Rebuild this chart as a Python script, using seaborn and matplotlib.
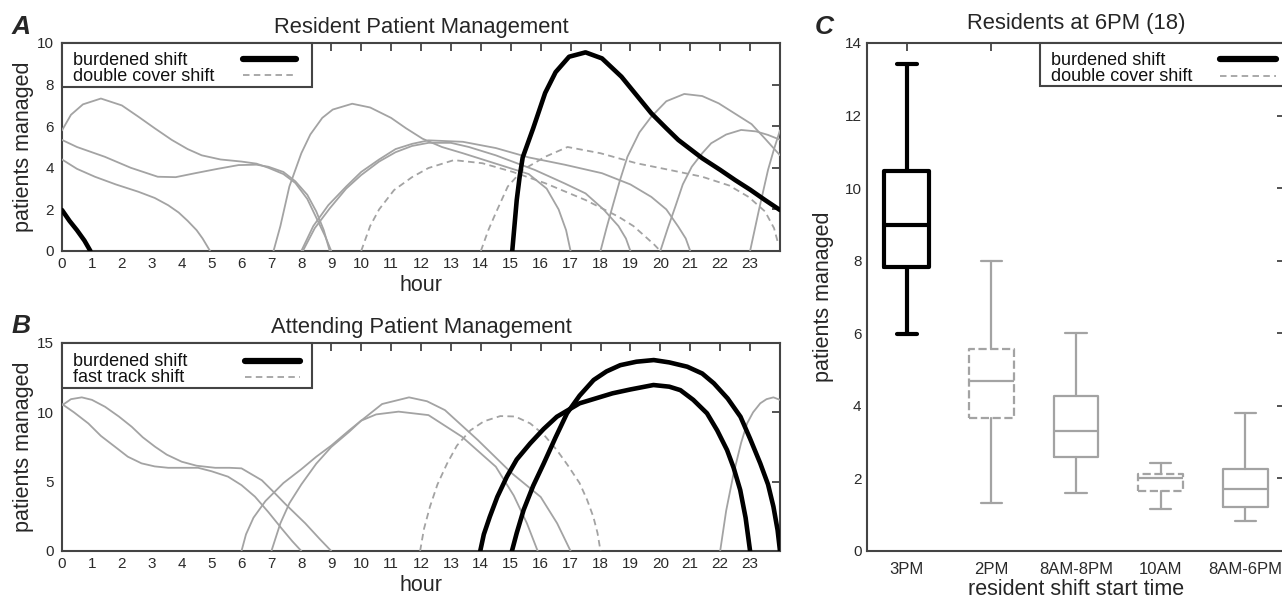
import numpy as np
import pandas as pd
import matplotlib
matplotlib.use("Agg")
import matplotlib.pyplot as plt
from matplotlib.lines import Line2D
from matplotlib.patches import Rectangle
import seaborn as sns

sns.set_style("white")
plt.rcParams['font.family'] = ['Liberation Sans', 'DejaVu Sans']

# ---------------- Panel A: Resident Patient Management ----------------
A_burden1_h = [15.05, 15.2, 15.3, 15.4, 15.75, 16.15, 16.5, 16.95, 17.5, 18.05, 18.7, 19.2, 19.7, 20.2, 20.6, 21.0, 21.4, 22.0, 22.5, 23.0, 23.5, 24.0]
A_burden1_v = [0, 2.45, 3.6, 4.5, 5.9, 7.6, 8.6, 9.34, 9.55, 9.26, 8.38, 7.5, 6.62, 5.9, 5.34, 4.9, 4.46, 3.9, 3.41, 2.95, 2.45, 1.97]
A_burden2_h = [0, 0.25, 0.5, 0.75, 0.95]
A_burden2_v = [1.97, 1.45, 1.0, 0.5, 0]

A_upper_h = [0, 0.3, 0.7, 1.3, 2.0, 2.55, 3.1, 3.67, 4.2, 4.67, 5.3, 6.0, 6.5, 6.9, 7.4, 7.8, 8.2, 8.5, 8.8, 9.0]
A_upper_v = [5.8, 6.55, 7.05, 7.33, 7.0, 6.46, 5.9, 5.34, 4.9, 4.6, 4.4, 4.3, 4.2, 4.0, 3.7, 3.27, 2.5, 1.6, 0.7, 0]
A_middle_h = [0, 0.5, 1.43, 2.3, 3.2, 3.8, 4.45, 5.2, 5.9, 6.5, 6.9, 7.4, 7.8, 8.2, 8.5, 8.75, 8.95]
A_middle_v = [5.34, 5.0, 4.53, 4.0, 3.57, 3.55, 3.74, 3.95, 4.13, 4.15, 4.05, 3.8, 3.35, 2.7, 1.9, 1.0, 0]
A_lower_h = [0, 0.5, 1.1, 1.8, 2.55, 3.1, 3.55, 3.9, 4.2, 4.5, 4.7, 4.95]
A_lower_v = [4.4, 3.95, 3.57, 3.2, 2.85, 2.55, 2.2, 1.85, 1.45, 1.0, 0.6, 0]
A_g7_h = [7.07, 7.3, 7.6, 8.0, 8.3, 8.7, 9.05, 9.7, 10.3, 11.0, 11.5, 12.05, 12.7, 13.4, 14.5, 15.6, 16.2, 16.6, 16.85, 17.0]
A_g7_v = [0, 1.2, 3.1, 4.7, 5.6, 6.4, 6.8, 7.08, 6.9, 6.4, 5.9, 5.4, 5.0, 4.7, 4.2, 3.7, 3.0, 2.0, 1.0, 0]
A_s8a_h = [8.0, 8.4, 8.9, 9.5, 10.0, 10.6, 11.15, 11.7, 12.25, 13.4, 14.5, 15.6, 16.8, 18.05, 19.0, 19.7, 20.2, 20.6, 20.85, 21.0]
A_s8a_v = [0, 1.2, 2.2, 3.1, 3.8, 4.4, 4.9, 5.15, 5.32, 5.25, 4.95, 4.5, 4.15, 3.74, 3.2, 2.6, 2.0, 1.17, 0.6, 0]
A_s8b_h = [8.05, 8.45, 8.95, 9.5, 10.0, 10.6, 11.15, 11.7, 12.25, 13.0, 13.6, 14.5, 15.8, 16.8, 17.5, 18.1, 18.6, 18.85, 19.0]
A_s8b_v = [0, 1.1, 2.05, 3.0, 3.65, 4.3, 4.75, 5.05, 5.2, 5.2, 5.0, 4.6, 3.9, 3.25, 2.77, 2.0, 1.2, 0.6, 0]
A_s18_h = [18.0, 18.2, 18.4, 18.65, 18.9, 19.3, 19.7, 20.2, 20.8, 21.4, 21.95, 22.5, 23.05, 23.5, 24.0]
A_s18_v = [0, 1.1, 2.13, 3.4, 4.53, 5.7, 6.46, 7.2, 7.55, 7.45, 7.1, 6.6, 6.1, 5.4, 4.6]
A_s20_h = [20.0, 20.25, 20.5, 20.75, 21.05, 21.4, 21.7, 22.2, 22.7, 23.2, 23.6, 24.0]
A_s20_v = [0, 1.1, 2.13, 3.2, 4.05, 4.7, 5.18, 5.6, 5.82, 5.75, 5.58, 5.35]
A_s23_h = [23.0, 23.3, 23.6, 23.8, 24.0]
A_s23_v = [0, 2.0, 3.9, 4.9, 5.8]
A_d10_h = [10.0, 10.3, 10.6, 11.1, 11.7, 12.25, 13.1, 14.05, 15.05, 16.15, 17.5, 18.6, 19.1, 19.5, 19.8, 20.0]
A_d10_v = [0, 1.2, 2.0, 2.93, 3.55, 3.99, 4.37, 4.22, 3.81, 3.26, 2.45, 1.65, 1.2, 0.69, 0.3, 0]
A_d14_h = [14.0, 14.25, 14.5, 14.9, 15.4, 16.15, 16.9, 18.0, 19.2, 20.3, 21.4, 22.3, 22.95, 23.5, 23.8, 23.95]
A_d14_v = [0, 1.0, 1.83, 3.1, 3.9, 4.53, 5.0, 4.7, 4.22, 3.9, 3.57, 3.15, 2.6, 1.9, 1.1, 0.3]

# ---------------- Panel B: Attending Patient Management ----------------
B_g0a_h = [0, 0.3, 0.66, 1.0, 1.44, 1.9, 2.33, 2.7, 3.11, 3.5, 4.0, 4.5, 5.12, 5.6, 6.0, 6.68, 7.1, 7.46, 8.13, 8.6, 9.0]
B_g0a_v = [10.5, 10.95, 11.08, 10.9, 10.4, 9.7, 8.96, 8.2, 7.52, 6.95, 6.44, 6.15, 6.0, 6.0, 5.96, 5.1, 4.2, 3.4, 2.0, 0.9, 0]
B_g0b_h = [0, 0.4, 0.88, 1.3, 1.77, 2.2, 2.66, 3.1, 3.55, 4.0, 4.55, 5.0, 5.55, 6.0, 6.45, 6.9, 7.35, 7.7, 8.0]
B_g0b_v = [10.6, 10.0, 9.2, 8.3, 7.52, 6.8, 6.32, 6.1, 6.0, 6.0, 6.0, 5.75, 5.36, 4.75, 3.92, 2.8, 1.6, 0.7, 0]
B_g6_h = [6.0, 6.15, 6.4, 6.8, 7.4, 8.0, 8.5, 9.0, 9.6, 10.0, 10.5, 11.25, 12.25, 13.37, 14.5, 15.1, 15.54, 15.9]
B_g6_v = [0, 1.2, 2.4, 3.6, 4.9, 5.9, 6.8, 7.6, 8.7, 9.4, 9.85, 10.05, 9.8, 8.24, 6.08, 4.0, 2.0, 0]
B_g7_h = [7.0, 7.15, 7.3, 7.6, 8.0, 8.5, 9.0, 9.6, 10.0, 10.7, 11.6, 12.2, 12.8, 13.9, 15.04, 16.0, 16.55, 17.0]
B_g7_v = [0, 1.0, 2.0, 3.44, 4.8, 6.3, 7.5, 8.6, 9.4, 10.6, 11.08, 10.8, 10.16, 8.0, 5.6, 3.9, 2.0, 0]
B_g22_h = [22.0, 22.2, 22.45, 22.7, 22.9, 23.1, 23.34, 23.55, 23.78, 24.0]
B_g22_v = [0, 2.9, 5.6, 7.8, 9.2, 10.0, 10.65, 10.95, 11.08, 10.9]
B_d12_h = [11.97, 12.1, 12.3, 12.55, 12.87, 13.2, 13.65, 14.1, 14.65, 15.15, 15.65, 16.1, 16.54, 16.9, 17.3, 17.55, 17.76, 17.9, 18.0]
B_d12_v = [0, 1.6, 3.2, 4.8, 6.3, 7.6, 8.7, 9.35, 9.73, 9.7, 9.2, 8.4, 7.28, 6.2, 4.9, 3.7, 2.47, 1.3, 0]
B_b14_h = [13.98, 14.1, 14.3, 14.55, 14.87, 15.2, 15.65, 16.1, 16.54, 17.3, 18.4, 19.0, 19.77, 20.3, 20.67, 21.1, 21.56, 21.9, 22.23, 22.45, 22.67, 22.85, 23.0]
B_b14_v = [0, 1.2, 2.47, 3.9, 5.36, 6.6, 7.76, 8.8, 9.68, 10.65, 11.37, 11.65, 11.97, 11.85, 11.6, 10.9, 9.93, 8.7, 7.28, 6.0, 4.4, 2.4, 0]
B_b15_h = [15.04, 15.2, 15.43, 15.75, 16.1, 16.5, 16.88, 17.3, 17.77, 18.2, 18.66, 19.2, 19.78, 20.3, 20.9, 21.4, 21.79, 22.25, 22.68, 23.0, 23.34, 23.6, 23.78, 23.92, 24.0]
B_b15_v = [0, 1.3, 2.96, 4.7, 6.3, 8.2, 9.93, 11.2, 12.33, 12.95, 13.4, 13.65, 13.77, 13.6, 13.29, 12.8, 12.09, 11.0, 9.68, 8.1, 6.32, 4.8, 3.2, 1.5, 0]

# ---------------- Panel C: Residents at 6PM ----------------
C_cats = ['3PM', '2PM', '8AM-8PM', '10AM', '8AM-6PM']
C_low = [5.97, 1.33, 1.61, 1.15, 0.83]
C_q1 = [7.84, 3.67, 2.6, 1.65, 1.22]
C_med = [8.98, 4.69, 3.3, 2.02, 1.71]
C_q3 = [10.48, 5.56, 4.28, 2.13, 2.26]
C_high = [13.43, 8.0, 6.0, 2.42, 3.79]
C_kind = ['burdened', 'double', 'normal', 'double', 'normal']

# legend labels
LEG_A = ['burdened shift', 'double cover shift']
LEG_B = ['burdened shift', 'fast track shift']
LEG_C = ['burdened shift', 'double cover shift']

# ---------------- styles ----------------
GRAY = '#a3a3a3'
SPINE = '#444444'
TICKLAB = '#2a2a2a'
DASH = (0, (3.6, 2.4))
FS_TICK = 11
FS_LAB = 15.5
FS_TITLE = 15.8
FS_LEG = 13

W, H = 1282, 599
fig = plt.figure(figsize=(W / 100, H / 100), dpi=100)
axA = fig.add_axes([62 / W, 1 - 251 / H, 718 / W, 208 / H])
axB = fig.add_axes([62 / W, 1 - 551 / H, 718 / W, 208 / H])
axC = fig.add_axes([867 / W, 1 - 551 / H, 418 / W, 508 / H])


def draw(ax, h, v, kind):
    if kind == 'burdened':
        sns.lineplot(x=h, y=v, ax=ax, color='black', linewidth=3.3, sort=False,
                     estimator=None, legend=False, zorder=5)
    elif kind == 'double':
        sns.lineplot(x=h, y=v, ax=ax, color=GRAY, linewidth=1.3, linestyle=DASH,
                     sort=False, estimator=None, legend=False, zorder=3)
    else:
        sns.lineplot(x=h, y=v, ax=ax, color=GRAY, linewidth=1.3, sort=False,
                     estimator=None, legend=False, zorder=3)


A_series = [
    (A_upper_h, A_upper_v, 'normal'), (A_middle_h, A_middle_v, 'normal'),
    (A_lower_h, A_lower_v, 'normal'), (A_g7_h, A_g7_v, 'normal'),
    (A_s8a_h, A_s8a_v, 'normal'), (A_s8b_h, A_s8b_v, 'normal'),
    (A_s18_h, A_s18_v, 'normal'), (A_s20_h, A_s20_v, 'normal'),
    (A_s23_h, A_s23_v, 'normal'), (A_d10_h, A_d10_v, 'double'),
    (A_d14_h, A_d14_v, 'double'), (A_burden1_h, A_burden1_v, 'burdened'),
    (A_burden2_h, A_burden2_v, 'burdened'),
]
for h, v, k in A_series:
    draw(axA, h, v, k)

B_series = [
    (B_g0a_h, B_g0a_v, 'normal'), (B_g0b_h, B_g0b_v, 'normal'),
    (B_g6_h, B_g6_v, 'normal'), (B_g7_h, B_g7_v, 'normal'),
    (B_g22_h, B_g22_v, 'normal'), (B_d12_h, B_d12_v, 'double'),
    (B_b14_h, B_b14_v, 'burdened'), (B_b15_h, B_b15_v, 'burdened'),
]
for h, v, k in B_series:
    draw(axB, h, v, k)


def style_axes(ax):
    for s in ax.spines.values():
        s.set_color(SPINE)
        s.set_linewidth(1.5)
        s.set_visible(True)
    ax.tick_params(direction='in', length=6, width=1.3, color=SPINE,
                   top=True, right=True, labelcolor=TICKLAB, labelsize=FS_TICK)
    ax.grid(False)


for ax, ymax, ystep, title in [(axA, 10, 2, 'Resident Patient Management'),
                               (axB, 15, 5, 'Attending Patient Management')]:
    ax.set_xlim(0, 24)
    ax.set_ylim(0, ymax)
    ax.set_xticks(range(25))
    ax.set_xticklabels([str(i) for i in range(24)] + [''])
    ax.set_yticks(range(0, ymax + 1, ystep))
    style_axes(ax)
    ax.tick_params(axis='x', pad=4.5)
    ax.tick_params(axis='y', pad=6)
    ax.set_xlabel('hour', fontsize=FS_LAB)
    ax.set_ylabel('patients managed', fontsize=FS_LAB)
    ax.xaxis.set_label_coords(0.5, -0.115)
    ax.yaxis.set_label_coords(-0.039, 0.5)
    ax.set_title(title, fontsize=FS_TITLE, pad=7)


def fx(px):
    return px / W


def fy(py):
    return 1 - py / H


def key_box(box, labels, text_x, base_y, hx, handle_y):
    """Gnuplot-style key drawn in figure pixel positions."""
    x0, y0, x1, y1 = box
    fig.add_artist(Rectangle((fx(x0), fy(y1)), fx(x1) - fx(x0), fy(y0) - fy(y1),
                             transform=fig.transFigure, facecolor='white',
                             edgecolor=SPINE, linewidth=1.5, zorder=8))
    styles = [dict(color='black', linewidth=4.5),
              dict(color=GRAY, linewidth=1.3, linestyle=DASH)]
    for lab, by, hy, st in zip(labels, base_y, handle_y, styles):
        fig.text(fx(text_x), fy(by), lab, fontsize=FS_LEG, ha='left',
                 va='baseline', color='#111111', zorder=9)
        fig.add_artist(Line2D([fx(hx[0]), fx(hx[1])], [fy(hy), fy(hy)],
                              transform=fig.transFigure, zorder=9, **st))


key_box((62, 43, 312, 87), LEG_A, 73, (65, 81), (243, 296), (59, 75))
key_box((62, 343, 312, 388), LEG_B, 73, (365.5, 382.5), (245, 300), (361, 377))

# ---------------- Panel C boxes ----------------
for i, cat in enumerate(C_cats):
    stats = [dict(med=C_med[i], q1=C_q1[i], q3=C_q3[i], whislo=C_low[i],
                  whishi=C_high[i], fliers=[], label=cat)]
    kind = C_kind[i]
    if kind == 'burdened':
        col, lw, bls = 'black', 3.0, '-'
        capw = 0.23
    else:
        col, lw, bls = GRAY, 1.6, ('--' if kind == 'double' else '-')
        capw = 0.25
    axC.bxp(stats, positions=[i], widths=0.53, showfliers=False,
            capwidths=capw,
            boxprops=dict(color=col, linewidth=lw, linestyle=bls),
            whiskerprops=dict(color=col, linewidth=lw),
            capprops=dict(color=col, linewidth=lw),
            medianprops=dict(color=col, linewidth=lw))

axC.set_xlim(-0.47, 4.47)
axC.set_ylim(0, 14)
axC.set_xticks(range(len(C_cats)))
axC.set_xticklabels(C_cats)
axC.set_yticks(range(0, 15, 2))
style_axes(axC)
axC.tick_params(axis='x', pad=8, labelsize=12)
axC.tick_params(axis='y', pad=4)
axC.set_xlabel('resident shift start time', fontsize=FS_LAB)
axC.set_ylabel('patients managed', fontsize=FS_LAB)
axC.xaxis.set_label_coords(0.5, -0.055)
axC.yaxis.set_label_coords(-0.079, 0.5)
axC.set_title('Residents at 6PM (18)', fontsize=FS_TITLE, pad=10)
key_box((1040, 43, 1295, 86), LEG_C, 1051, (65, 81), (1220, 1276), (59, 75.5))

# panel letters
for txt, x, y in [('A', 12, 34), ('B', 12, 333), ('C', 815, 34)]:
    fig.text(x / W, 1 - y / H, txt, fontsize=19, fontweight='bold',
             fontstyle='italic', ha='left', va='baseline')

fig.savefig('out.png', dpi=100)
